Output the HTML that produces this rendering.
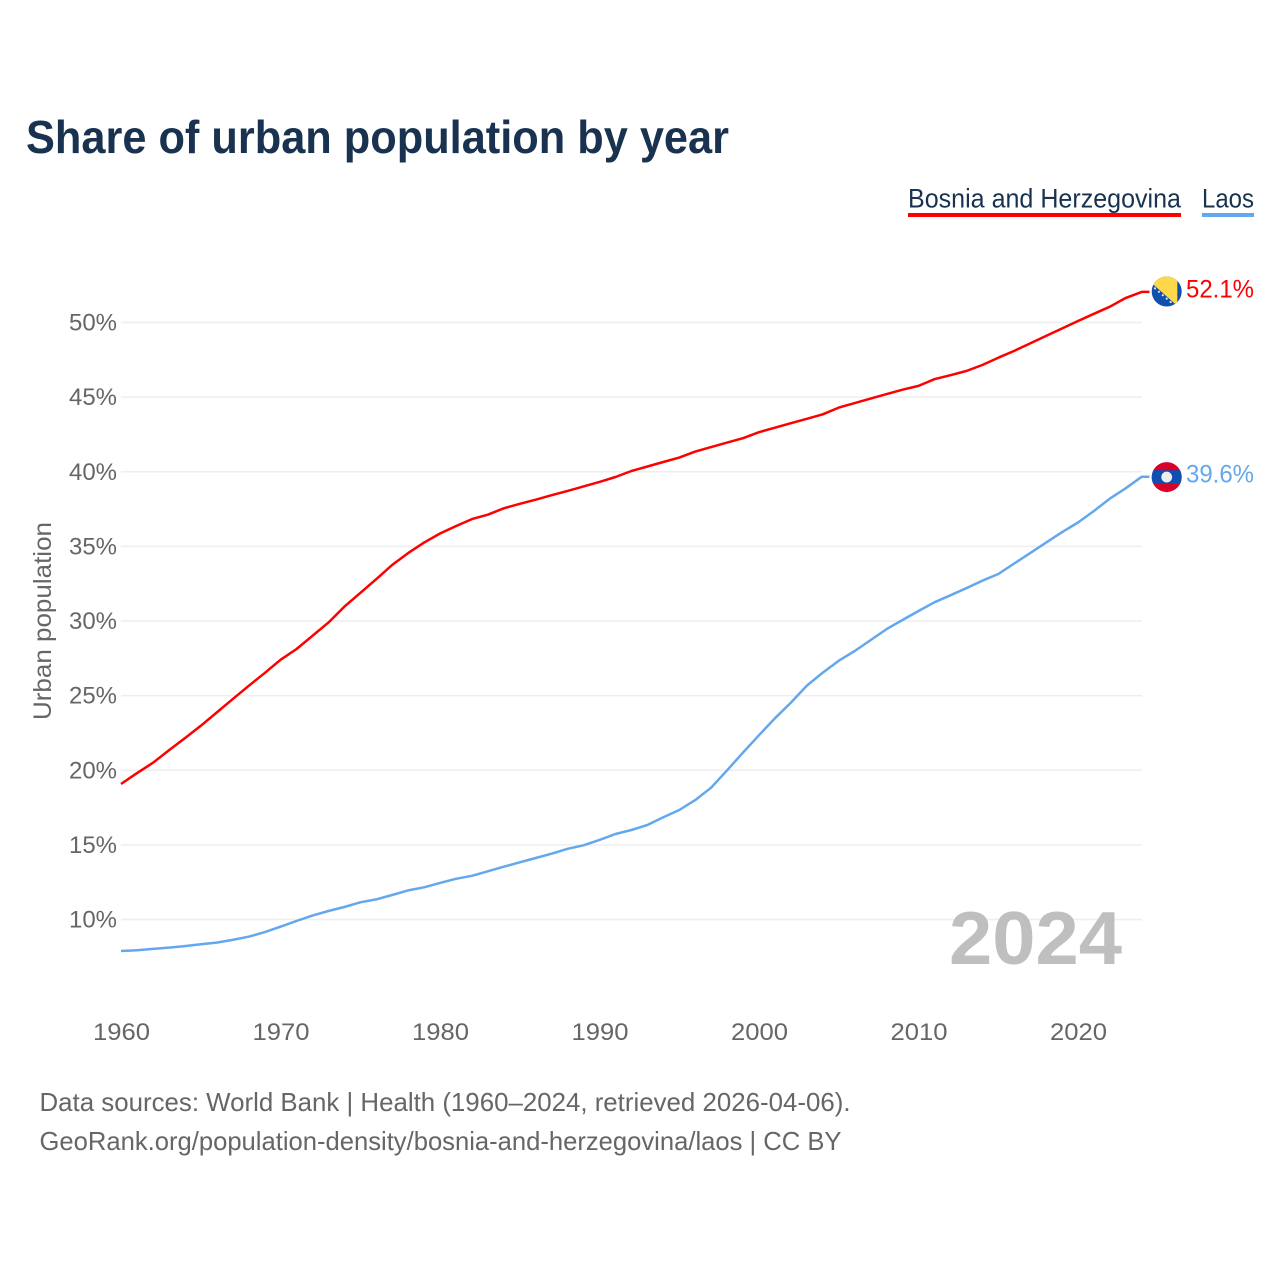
<!DOCTYPE html>
<html>
<head>
<meta charset="utf-8">
<title>Share of urban population by year</title>
<style>
html,body{margin:0;padding:0;background:#fff}
svg{display:block}
text{font-family:"Liberation Sans",sans-serif}
</style>
</head>
<body>
<svg id="chart" xmlns="http://www.w3.org/2000/svg" width="1280" height="1280" viewBox="0 0 1280 1280">
<rect width="1280" height="1280" fill="#fff"/>
<text x="26" y="153" font-size="46" font-weight="700" fill="#19324f" textLength="703" lengthAdjust="spacingAndGlyphs">Share of urban population by year</text>
<text x="908" y="207.5" font-size="26.5" fill="#19324f" textLength="273" lengthAdjust="spacingAndGlyphs">Bosnia and Herzegovina</text>
<rect x="908" y="213" width="273" height="4" fill="#ff0000"/>
<text x="1202" y="207.5" font-size="26.5" fill="#19324f" textLength="52" lengthAdjust="spacingAndGlyphs">Laos</text>
<rect x="1202" y="213" width="52" height="4" fill="#63a8ee"/>
<g id="grid"></g>
<g id="yticks"></g>
<g id="xticks"></g>
<text transform="translate(51,621) rotate(-90)" text-anchor="middle" font-size="25" fill="#666" textLength="198" lengthAdjust="spacingAndGlyphs">Urban population</text>
<text x="949" y="964" font-size="75" font-weight="700" fill="#bfbfbf" textLength="173" lengthAdjust="spacingAndGlyphs">2024</text>
<g id="series"></g>
<defs>
<clipPath id="clip-bosnia"><circle id="clip-bosnia-c" cx="1166.7" cy="290" r="15"/></clipPath>
<clipPath id="clip-laos"><circle id="clip-laos-c" cx="1166.7" cy="477" r="15"/></clipPath>
</defs>
<g id="flag-bosnia" clip-path="url(#clip-bosnia)"></g>
<g id="flag-laos" clip-path="url(#clip-laos)"></g>
<g id="endlabels"></g>
<text x="39.5" y="1111" font-size="26" fill="#666" textLength="811" lengthAdjust="spacingAndGlyphs">Data sources: World Bank | Health (1960–2024, retrieved 2026-04-06).</text>
<text x="39.5" y="1150" font-size="26" fill="#666" textLength="802" lengthAdjust="spacingAndGlyphs">GeoRank.org/population-density/bosnia-and-herzegovina/laos | CC BY</text>
</svg>
<script>
const years = [1960,1961,1962,1963,1964,1965,1966,1967,1968,1969,1970,1971,1972,1973,1974,1975,1976,1977,1978,1979,1980,1981,1982,1983,1984,1985,1986,1987,1988,1989,1990,1991,1992,1993,1994,1995,1996,1997,1998,1999,2000,2001,2002,2003,2004,2005,2006,2007,2008,2009,2010,2011,2012,2013,2014,2015,2016,2017,2018,2019,2020,2021,2022,2023,2024];
const bosnia = [19.08,19.8,20.5,21.33,22.15,22.98,23.87,24.76,25.65,26.5,27.4,28.12,29.0,29.89,30.96,31.88,32.8,33.75,34.55,35.25,35.86,36.36,36.83,37.12,37.55,37.85,38.13,38.43,38.72,39.02,39.32,39.65,40.05,40.35,40.65,40.95,41.35,41.65,41.95,42.25,42.65,42.95,43.25,43.55,43.85,44.3,44.6,44.9,45.2,45.5,45.75,46.2,46.47,46.75,47.15,47.64,48.1,48.6,49.1,49.6,50.1,50.58,51.06,51.65,52.05];
const laos = [7.89,7.94,8.03,8.12,8.22,8.34,8.45,8.63,8.85,9.15,9.52,9.9,10.26,10.57,10.84,11.15,11.35,11.64,11.95,12.16,12.45,12.73,12.93,13.23,13.54,13.83,14.12,14.41,14.74,14.97,15.33,15.73,16.0,16.33,16.85,17.34,18.0,18.83,20.0,21.18,22.35,23.48,24.53,25.67,26.54,27.34,27.99,28.72,29.46,30.07,30.67,31.25,31.72,32.2,32.7,33.15,33.85,34.55,35.25,35.95,36.6,37.37,38.2,38.9,39.67];
const yTicks = [10,15,20,25,30,35,40,45,50];
const xTicks = [1960,1970,1980,1990,2000,2010,2020];
const endLabels = ["52.1%","39.6%"];

const NS = "http://www.w3.org/2000/svg";
function xScale(v){ return 121 + (v - 1960) * 15.95; }
function yScale(v){ return 919.5 - (v - 10) * 14.925; }
function make(tag, attrs, parent, text){
  const el = document.createElementNS(NS, tag);
  for (const k in attrs) el.setAttribute(k, attrs[k]);
  if (text !== undefined) el.textContent = text;
  parent.appendChild(el);
  return el;
}
const grid = document.getElementById('grid');
const yG = document.getElementById('yticks');
const xG = document.getElementById('xticks');
const seriesG = document.getElementById('series');
const endG = document.getElementById('endlabels');

yTicks.forEach(function(t){
  const line = make('line', {x1:121, x2:1142, y1:yScale(t), y2:yScale(t), stroke:'#eeeeee', 'stroke-width':1.5}, grid);
  
  
  const lab = make('text', {x:117, y:yScale(t)+8, 'text-anchor':'end', 'font-size':24.5, fill:'#666', textLength:48, lengthAdjust:'spacingAndGlyphs'}, yG, t + '%');
  
  
});
xTicks.forEach(function(t){
  const lab = make('text', {x:xScale(t)+0.5, y:1040, 'text-anchor':'middle', 'font-size':24.5, fill:'#666', textLength:57, lengthAdjust:'spacingAndGlyphs'}, xG, String(t));
  
  
});
function linePath(vals){
  return vals.map(function(v,i){ return (i ? 'L' : 'M') + xScale(years[i]).toFixed(1) + ' ' + yScale(v).toFixed(1); }).join(' ') + ' H1149.5';
}
const bosniaLine = make('path', {d:linePath(bosnia), fill:'none', stroke:'#ff0000', 'stroke-width':2.5, 'stroke-linejoin':'round'}, seriesG);


const laosLine = make('path', {d:linePath(laos), fill:'none', stroke:'#63a8ee', 'stroke-width':2.5, 'stroke-linejoin':'round'}, seriesG);



const by = yScale(bosnia[bosnia.length-1]);
const ly = yScale(laos[laos.length-1]);
document.getElementById('clip-bosnia-c').setAttribute('cy', by - 0.4);
document.getElementById('clip-laos-c').setAttribute('cy', ly + 0.4);

const fb = document.getElementById('flag-bosnia');
make('rect', {x:1150, y:by-17, width:34, height:34, fill:'#0f4fb0'}, fb);
make('polygon', {points:'1148,'+(by-12)+' 1177.3,'+(by+14)+' 1177.3,'+(by-17)+' 1148,'+(by-17), fill:'#ffd84a'}, fb);
[0,1,2,3,4,5].forEach(function(i){
  make('circle', {cx:1155+i*3.9, cy:by-3.5+i*3.4, r:1.1, fill:'#e4e4e4'}, fb);
});
const fl = document.getElementById('flag-laos');
make('rect', {x:1150, y:ly-16, width:34, height:33, fill:'#d9002a'}, fl);
make('rect', {x:1150, y:ly-6.5, width:34, height:13.5, fill:'#0f4fb0'}, fl);
make('circle', {cx:1166.7, cy:ly+0.4, r:5.4, fill:'#eeeeee'}, fl);

const l1 = make('text', {x:1186, y:by+5.5, 'font-size':25, fill:'#ff0000', textLength:68, lengthAdjust:'spacingAndGlyphs'}, endG, endLabels[0]);


const l2 = make('text', {x:1186, y:ly+6, 'font-size':25, fill:'#63a8ee', textLength:68, lengthAdjust:'spacingAndGlyphs'}, endG, endLabels[1]);


</script>
</body>
</html>
